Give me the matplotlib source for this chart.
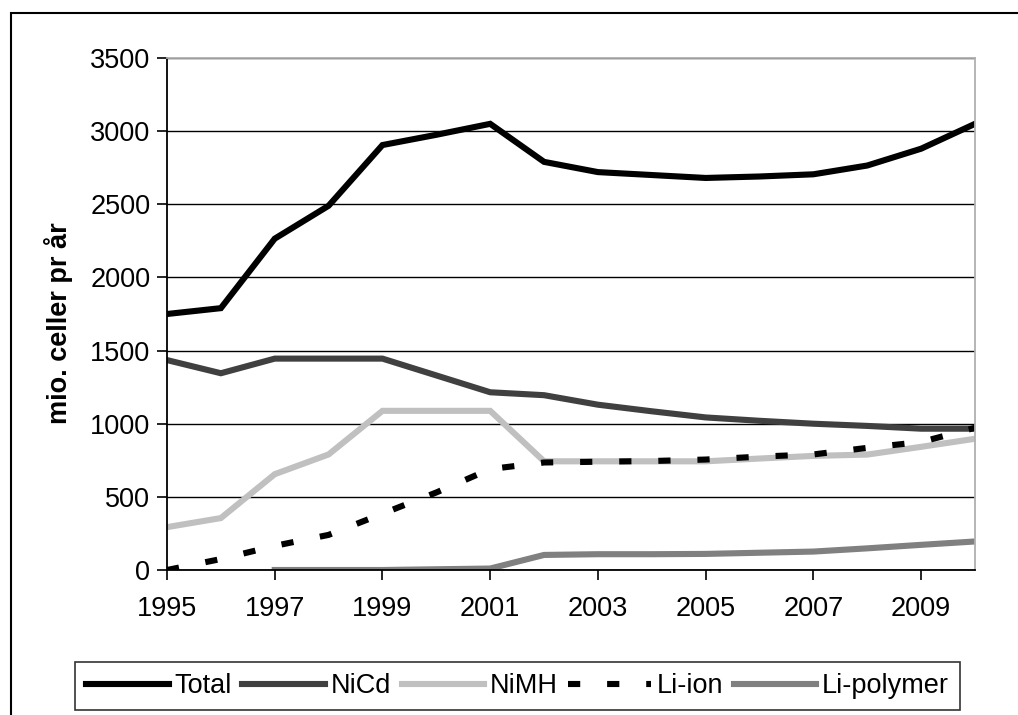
import numpy as np
import matplotlib
matplotlib.use("Agg")
import matplotlib.pyplot as plt
from matplotlib.patches import Rectangle

plt.rcParams['font.family'] = ['Liberation Sans', 'DejaVu Sans']

years = list(range(1995, 2011))
total = [1750, 1790, 2265, 2490, 2905, 2975, 3050, 2790, 2720, 2700, 2680, 2690, 2705, 2765, 2880, 3050]
nicd = [1435, 1345, 1445, 1445, 1445, 1330, 1215, 1195, 1130, 1085, 1043, 1020, 1000, 985, 966, 966]
nimh = [293, 355, 655, 790, 1088, 1088, 1088, 743, 743, 743, 743, 762, 780, 789, 842, 897]
liion = [0, 75, 165, 240, 385, 530, 690, 735, 740, 745, 755, 775, 790, 835, 875, 972]
lipoly = [np.nan, np.nan, 0, 0, 0, 5, 10, 103, 108, 108, 110, 118, 126, 148, 172, 195]
xtick_years = [1995, 1997, 1999, 2001, 2003, 2005, 2007, 2009]
ytick_vals = [0, 500, 1000, 1500, 2000, 2500, 3000, 3500]

W, H = 1018, 715
fig = plt.figure(figsize=(W / 100, H / 100), dpi=100)
fig.patch.set_facecolor('white')

# outer border
fig.patches.append(Rectangle((11 / W, -0.05), 1.2, 1.05 - 13 / H, transform=fig.transFigure,
                             fill=False, edgecolor='black', linewidth=1.5, zorder=0))

ax = fig.add_axes([167 / W, 1 - 570 / H, (975 - 167) / W, (570 - 58) / H])

lw = 4.4
ax.plot(years, total, color='black', lw=lw, label='Total', solid_joinstyle='miter')
ax.plot(years, nicd, color='#404040', lw=lw, label='NiCd', solid_joinstyle='miter')
ax.plot(years, nimh, color='#c0c0c0', lw=lw, label='NiMH', solid_joinstyle='miter')
ax.plot(years, liion, color='black', lw=lw, label='Li-ion', dashes=(2, 4.4),
        dash_capstyle='butt')
ax.plot(years, lipoly, color='#808080', lw=lw, label='Li-polymer', solid_joinstyle='miter')

fs = 19.5
ax.set_xlim(1995, 2010)
ax.set_ylim(0, 3500)
ax.set_xticks(xtick_years)
ax.set_xticklabels([str(y) for y in xtick_years])
ax.set_yticks(ytick_vals)
ax.yaxis.grid(True, color='black', lw=1.0)
ax.set_axisbelow(True)
ax.tick_params(axis='both', labelsize=fs, length=7, width=1.2, color='black', direction='out')
ax.tick_params(axis='x', pad=12)
ax.tick_params(axis='y', pad=5)
for s in ['left', 'bottom']:
    ax.spines[s].set_color('black')
    ax.spines[s].set_linewidth(1.3)
for s in ['top', 'right']:
    ax.spines[s].set_color('#b0b0b0')
    ax.spines[s].set_linewidth(1.3)

ax.set_ylabel('mio. celler pr år', fontsize=fs, fontweight='bold')
ax.yaxis.set_label_coords(-0.116, 0.482)

leg = fig.legend(loc='center', bbox_to_anchor=(517.5 / W, 1 - 686 / H), ncol=5,
                 fontsize=fs, frameon=True, fancybox=False, edgecolor='black',
                 handlelength=3.05, handletextpad=0.2, columnspacing=0.4,
                 borderpad=0.4, borderaxespad=0)
leg.get_frame().set_linewidth(1.2)

fig.savefig('out.png', dpi=100, facecolor='white')
